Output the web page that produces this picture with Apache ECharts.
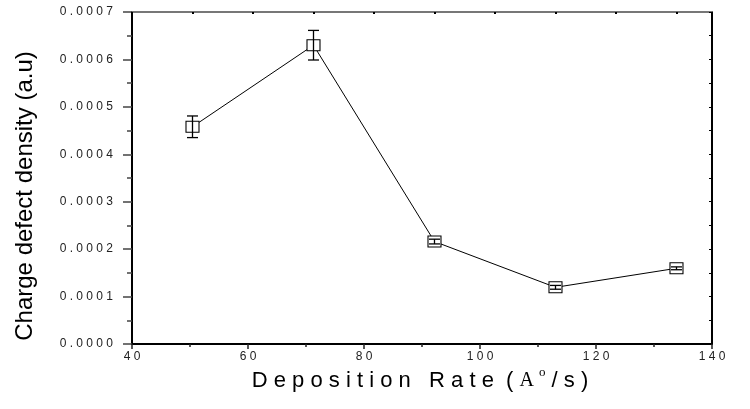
<!DOCTYPE html>
<html>
<head>
<meta charset="utf-8">
<script src="https://cdn.jsdelivr.net/npm/echarts@6/dist/echarts.min.js"></script>
<style>html,body{margin:0;padding:0;background:#fff;}#c{width:750px;height:409px;}</style>
</head>
<body>
<div id="c"></div>
<script>
// Data
const xValues = [50, 70, 90, 110, 130];
const yValues = [0.000458, 0.000630, 0.000216, 0.0001195, 0.0001596];
const yErrors = [0.0000228, 0.0000312, 0.000005, 0.000004, 0.000003];
const xTickValues = [40, 60, 80, 100, 120, 140];
const yTickValues = [0, 0.0001, 0.0002, 0.0003, 0.0004, 0.0005, 0.0006, 0.0007];
const yTitle = 'Charge defect density (a.u)';

const spaced = s => s.split('').join(' ');
const FONT = '"Liberation Sans", Arial, sans-serif';

const chart = echarts.init(document.getElementById('c'), null, {renderer: 'canvas'});
const pts = xValues.map((x, i) => [x, yValues[i]]);
const errs = xValues.map((x, i) => [x, yValues[i] - yErrors[i], yValues[i] + yErrors[i]]);

chart.setOption({
  animation: false,
  backgroundColor: '#fff',
  grid: {left: 132, right: 38, top: 12, bottom: 65},
  xAxis: [{
    type: 'value', min: 40, max: 140, interval: 20,
    axisLine: {show: true, onZero: false, lineStyle: {color: '#000', width: 2}},
    axisTick: {show: true, inside: false, length: 5, lineStyle: {color: '#222', width: 1.5}},
    minorTick: {show: true, splitNumber: 2, length: 3, lineStyle: {color: '#222', width: 1.5}},
    splitLine: {show: false},
    axisLabel: {margin: 7, color: '#222', fontFamily: FONT, fontSize: 12,
      formatter: v => xTickValues.includes(v) ? spaced(String(v)) : ''}
  }, {
    // top axis of the original plot: its own scale, on which the points sit
    type: 'value', position: 'top', min: 40, max: 135.87, interval: 10,
    axisLine: {show: true, onZero: false, lineStyle: {color: '#777', width: 2}},
    axisTick: {show: true, inside: true, length: 2, lineStyle: {color: '#000', width: 2}},
    axisLabel: {show: false}, splitLine: {show: false}
  }],
  yAxis: [{
    type: 'value', min: 0, max: 0.0007, interval: 0.0001,
    axisLine: {show: true, onZero: false, lineStyle: {color: '#000', width: 2}},
    axisTick: {show: true, inside: false, length: 9, lineStyle: {color: '#444', width: 1.5}},
    minorTick: {show: true, splitNumber: 2, length: 5, lineStyle: {color: '#444', width: 1.5}},
    splitLine: {show: false},
    axisLabel: {margin: 19, color: '#222', fontFamily: FONT, fontSize: 12,
      formatter: v => spaced(yTickValues.find(t => Math.abs(t - v) < 1e-9).toFixed(4))}
  }, {
    type: 'value', position: 'right', min: 0, max: 0.0007, interval: 0.00005,
    axisLine: {show: true, onZero: false, lineStyle: {color: '#000', width: 2}},
    axisTick: {show: true, inside: true, length: 3, lineStyle: {color: '#000', width: 1}},
    axisLabel: {show: false}, splitLine: {show: false}
  }],
  series: [{
    type: 'line', data: pts, xAxisIndex: 1, yAxisIndex: 0,
    symbol: 'rect', symbolSize: [13, 11], showAllSymbol: true,
    lineStyle: {color: '#000', width: 1},
    itemStyle: {color: '#fff', borderColor: '#000', borderWidth: 1},
    z: 2
  }, {
    type: 'custom', data: errs, xAxisIndex: 1, yAxisIndex: 0, z: 3,
    renderItem: (params, api) => {
      const x = api.value(0);
      const lo = api.coord([x, api.value(1)]);
      const hi = api.coord([x, api.value(2)]);
      const cw = 5.5;
      const st = {stroke: '#000', lineWidth: 1.3};
      return {type: 'group', children: [
        {type: 'line', shape: {x1: lo[0], y1: lo[1], x2: hi[0], y2: hi[1]}, style: st},
        {type: 'line', shape: {x1: lo[0] - cw, y1: lo[1], x2: lo[0] + cw, y2: lo[1]}, style: st},
        {type: 'line', shape: {x1: hi[0] - cw, y1: hi[1], x2: hi[0] + cw, y2: hi[1]}, style: st}
      ]};
    }
  }],
  graphic: [{
    type: 'text', x: 25, y: 196, rotation: Math.PI / 2,
    style: {text: yTitle, x: 0, y: 0, textAlign: 'center', textVerticalAlign: 'middle',
      font: '24px ' + FONT, fill: '#000'}
  }, {
    type: 'text', x: 420, y: 381,
    style: {
      text: '{s|' + spaced('Deposition') + '   ' + spaced('Rate') + '  ( }{a|A }{o|o}{s| / s )}',
      x: 0, y: 0, textAlign: 'center', textVerticalAlign: 'middle',
      rich: {
        s: {fontFamily: FONT, fontSize: 22, fill: '#000', color: '#000'},
        a: {fontFamily: '"Liberation Serif", serif', fontSize: 20, fill: '#000', color: '#000'},
        o: {fontFamily: '"Liberation Serif", serif', fontSize: 13, fill: '#000', color: '#000', padding: [0, 0, 16, 0]}
      }
    }
  }]
});
</script>
</body>
</html>
